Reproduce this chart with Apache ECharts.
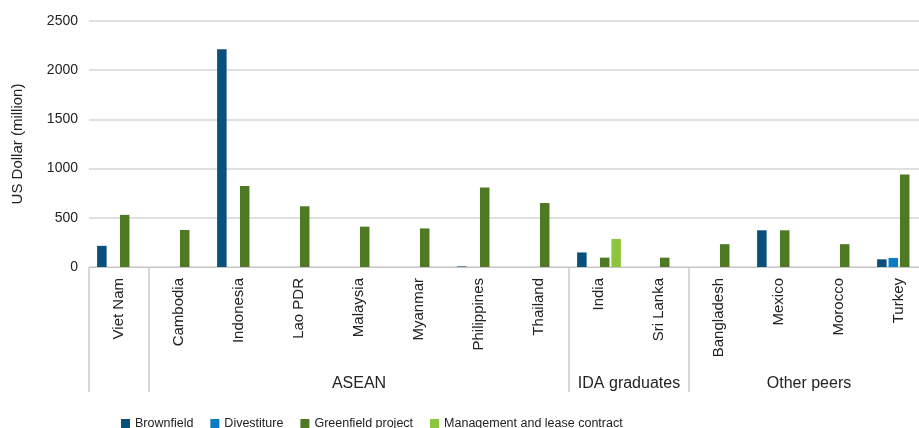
<!DOCTYPE html>
<html>
<head>
<meta charset="utf-8">
<script src="https://cdn.jsdelivr.net/npm/echarts@6/dist/echarts.min.js"></script>
<style>html,body{margin:0;padding:0;background:#fff}#c{width:919px;height:428px}</style>
</head>
<body>
<div id="c"></div>
<script>
var categories = ['Viet Nam','Cambodia','Indonesia','Lao PDR','Malaysia','Myanmar','Philippines','Thailand','India','Sri Lanka','Bangladesh','Mexico','Morocco','Turkey'];
var brownfield  = [215, 0, 2212, 0, 0, 0, 6, 0, 148, 0, 0, 373, 0, 78];
var divestiture = [0, 0, 0, 0, 0, 0, 0, 0, 0, 0, 0, 0, 0, 92];
var greenfield  = [530, 376, 823, 617, 410, 392, 808, 650, 95, 95, 232, 373, 232, 940];
var management  = [0, 0, 0, 0, 0, 0, 0, 0, 285, 0, 0, 0, 0, 0];
var groupNames  = ['', 'ASEAN', 'IDA graduates', 'Other peers'];
var groupStarts = [0, 1, 8, 10];
var groupEnds   = [1, 8, 10, 14];
var yTicks = [0, 500, 1000, 1500, 2000, 2500];
var seriesNames = ['Brownfield','Divestiture','Greenfield project','Management and lease contract'];

var colors = ['#0B4F7C', '#0A7CC1', '#4F7A25', '#8CC63F'];
var font = '"Liberation Sans", Arial, sans-serif';

// half-category positions for group labels
var groupAxis = [];
for (var k = 0; k <= categories.length * 2; k++) groupAxis.push('');
for (var g = 0; g < groupNames.length; g++) groupAxis[groupStarts[g] + groupEnds[g]] = groupNames[g];

function nz(arr){ return arr.map(function(v){ return v === 0 ? null : v; }); }
var seriesData = [brownfield, divestiture, greenfield, management];

var chart = echarts.init(document.getElementById('c'), null, {renderer:'canvas'});
chart.setOption({
  animation: false,
  color: colors,
  textStyle: {fontFamily: font},
  grid: {left: 89, width: 840, top: 21, bottom: 161, containLabel: false, outerBoundsMode: 'none'},
  legend: {
    left: 116, top: 412, itemWidth: 9, itemHeight: 9, itemGap: 17,
    icon: 'rect',
    textStyle: {fontSize: 12.5, color: '#222', fontFamily: font},
    data: seriesNames
  },
  xAxis: [{
    type: 'category',
    data: categories,
    axisLine: {show: true, lineStyle: {color: '#c6c6c6', width: 1}},
    axisTick: {show: true, length: 125, alignWithLabel: false,
      interval: function(i){ return groupStarts.indexOf(i) >= 0; },
      lineStyle: {color: '#cacaca', width: 1.5}},
    axisLabel: {rotate: 90, interval: 0, margin: 11, fontSize: 15, color: '#222', fontFamily: font}
  }, {
    type: 'category',
    data: groupAxis,
    boundaryGap: false,
    position: 'bottom',
    axisLine: {show: false},
    axisTick: {show: false},
    splitLine: {show: false},
    axisLabel: {interval: 0, margin: 109, fontSize: 16, color: '#222', fontFamily: font}
  }],
  yAxis: {
    type: 'value',
    min: yTicks[0], max: yTicks[yTicks.length - 1], interval: 500,
    name: 'US Dollar (million)',
    nameLocation: 'middle', nameGap: 64,
    nameTextStyle: {fontSize: 15, color: '#222', fontFamily: font},
    axisLine: {show: false}, axisTick: {show: false},
    axisLabel: {margin: 11, fontSize: 14, color: '#222', fontFamily: font,
      formatter: function(v){ return String(v); }},
    splitLine: {lineStyle: {color: '#d6d6d6', width: 1.5}}
  },
  series: seriesNames.map(function(n, i){
    return {
      name: n, type: 'bar', xAxisIndex: 0,
      data: nz(seriesData[i]),
      barGap: '20%', barCategoryGap: '27%',
      itemStyle: {color: colors[i]}
    };
  })
});
</script>
</body>
</html>
